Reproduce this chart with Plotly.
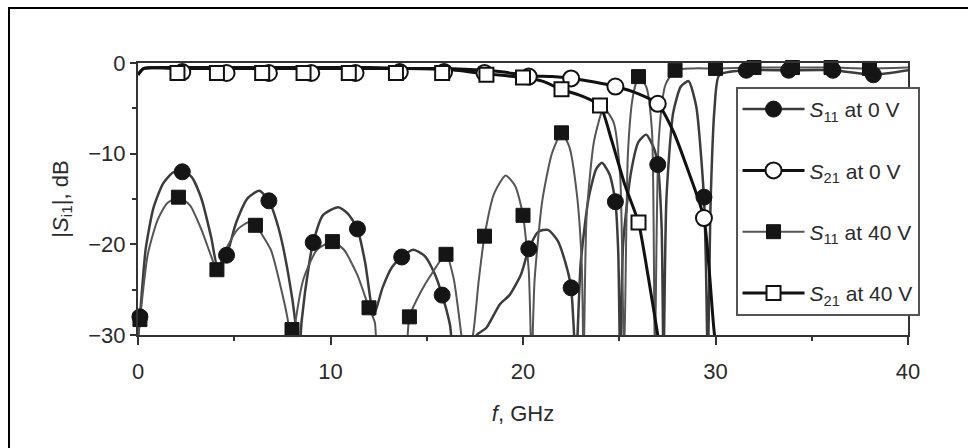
import plotly.graph_objects as go

# ---------------- data ----------------
# |S11| at 0 V, continuous trace (GHz, dB)
s11_0v_f = [0.0, 0.1, 0.4, 0.8, 1.3, 1.8, 2.3, 2.8, 3.3, 3.8, 4.15, 4.6, 5.1, 5.7, 6.3, 6.8,
            7.3, 7.8, 8.2, 8.35, 8.5, 8.9, 9.1, 9.6, 10.4, 10.9, 11.4, 11.8, 12.25, 12.7, 13.2,
            13.7, 14.3, 14.9, 15.4, 15.8, 16.2, 16.5, 17.3, 17.6, 18.1, 18.8, 19.3, 19.9, 20.3,
            20.8, 21.3, 21.8, 22.2, 22.5, 22.75, 23.0, 23.4, 23.8, 24.1, 24.5, 24.8, 24.95,
            25.05, 25.2, 25.6, 26.0, 26.4, 26.8, 27.0, 27.2, 27.3, 27.45, 27.8, 28.2, 28.6,
            29.0, 29.4, 29.5, 29.6, 29.75, 29.95, 30.2, 31.6, 33.8, 36.1, 38.2, 40.0]
s11_0v_db = [-30.5, -28.0, -20.5, -16.0, -13.3, -12.1, -11.8, -12.6, -15.0, -19.2, -22.6, -21.2,
             -17.6, -14.9, -14.1, -15.2, -18.2, -23.2, -29.0, -33.0, -28.5, -22.0, -19.8, -16.8,
             -15.9, -16.6, -18.3, -22.0, -27.8, -24.8, -22.5, -21.4, -20.6, -21.3, -23.2, -25.6,
             -28.8, -33.0, -33.0, -30.0, -29.2, -26.6, -25.6, -23.3, -20.5, -18.6, -18.4, -19.6,
             -22.0, -24.8, -33.0, -22.0, -15.0, -11.7, -11.0, -12.3, -15.3, -21.0, -33.0, -20.0,
             -12.2, -8.7, -7.9, -9.4, -11.2, -18.0, -33.0, -15.0, -5.5, -2.6, -2.0, -4.8, -14.8,
             -22.0, -33.0, -15.0, -5.0, -1.3, -0.8, -0.8, -0.8, -1.3, -0.8]
s11_0v_mark_f = [0.1, 2.3, 4.6, 6.8, 9.1, 11.4, 13.7, 15.8, 20.3, 22.5, 24.8, 27.0, 29.4,
                 31.6, 33.8, 36.1, 38.2]
s11_0v_mark_db = [-28.0, -12.0, -21.2, -15.2, -19.8, -18.3, -21.4, -25.6, -20.5, -24.8, -15.3,
                  -11.2, -14.8, -0.8, -0.8, -0.8, -1.3]

# |S11| at 40 V
s11_40v_f = [0.0, 0.1, 0.5, 1.0, 1.5, 2.1, 2.7, 3.3, 3.8, 4.1, 4.6, 5.2, 5.8, 6.1, 6.9, 7.4, 7.8,
             7.95, 8.15, 8.6, 9.3, 10.1, 10.7, 11.4, 12.0, 12.3, 12.55, 13.8, 14.1, 14.7, 15.3,
             16.0, 16.4, 16.8, 17.0, 17.4, 17.7, 18.0, 18.5, 19.1, 19.6, 20.0, 20.3, 20.45,
             20.6, 21.0, 21.5, 22.0, 22.4, 22.8, 23.05, 23.15, 23.3, 23.7, 24.2, 24.7, 25.05,
             25.25, 25.45, 25.7, 26.0, 26.4, 26.7, 26.85, 27.05, 27.4, 27.9, 28.8, 30.0, 32.0,
             34.0, 36.0, 38.0, 40.0]
s11_40v_db = [-30.5, -28.3, -21.2, -17.4, -15.5, -14.8, -15.7, -18.4, -21.3, -22.8, -20.4, -18.3,
              -17.5, -17.9, -20.6, -24.6, -28.6, -33.0, -29.0, -23.8, -20.6, -19.7, -20.6, -23.4,
              -27.0, -28.6, -33.0, -33.0, -28.0, -25.2, -23.1, -21.1, -23.8, -30.0, -33.0, -30.0,
              -24.0, -19.1, -14.4, -12.4, -13.6, -16.8, -23.0, -33.0, -24.0, -15.2, -10.0, -7.7,
              -9.2, -14.5, -22.0, -33.0, -17.0, -8.5, -5.0, -6.5, -12.5, -33.0, -10.0, -3.8,
              -1.5, -2.6, -7.5, -33.0, -8.5, -2.4, -0.8, -0.6, -0.6, -0.5, -0.5, -0.5, -0.6,
              -0.5]
s11_40v_mark_f = [0.1, 2.1, 4.1, 6.1, 8.0, 10.1, 12.0, 14.1, 16.0, 18.0, 20.0, 22.0, 26.0, 27.9,
                  30.0, 32.0, 34.0, 36.0, 38.0]
s11_40v_mark_db = [-28.3, -14.8, -22.8, -17.9, -29.4, -19.7, -27.0, -28.0, -21.1, -19.1, -16.8,
                   -7.7, -1.5, -0.8, -0.6, -0.5, -0.5, -0.5, -0.6]

# |S21| at 0 V
s21_0v_f = [0.0, 0.3, 2.0, 4.0, 6.0, 8.0, 10.0, 12.0, 14.0, 16.0, 18.0, 19.0, 20.3, 21.5, 22.5,
            23.7, 24.8, 26.0, 27.0, 27.8, 28.6, 29.4, 29.95, 30.3]
s21_0v_db = [-1.3, -0.6, -0.5, -0.5, -0.5, -0.5, -0.5, -0.5, -0.6, -0.6, -0.8, -1.0, -1.4, -1.5,
             -1.7, -2.1, -2.6, -3.4, -4.5, -7.5, -12.0, -17.1, -30.0, -34.0]
s21_0v_mark_f = [2.3, 4.6, 6.8, 9.0, 11.3, 13.6, 15.9, 18.0, 20.3, 22.5, 24.8, 27.0, 29.4]
s21_0v_mark_db = [-1.0, -1.1, -1.1, -1.1, -1.1, -1.0, -1.0, -1.1, -1.5, -1.7, -2.6, -4.5, -17.1]

# |S21| at 40 V
s21_40v_f = [0.0, 0.3, 2.0, 4.0, 6.0, 8.0, 10.0, 12.0, 14.0, 16.0, 18.1, 20.0, 21.0, 22.0, 23.0,
             24.0, 24.6, 25.3, 26.0, 26.5, 27.0, 27.3]
s21_40v_db = [-1.3, -0.6, -0.6, -0.6, -0.6, -0.6, -0.6, -0.6, -0.6, -0.7, -1.2, -1.6, -2.0,
              -2.9, -3.6, -4.7, -8.5, -13.5, -17.6, -23.5, -30.0, -34.0]
s21_40v_mark_f = [2.05, 4.1, 6.45, 8.6, 10.95, 13.4, 15.8, 18.1, 20.0, 22.0, 24.0, 26.0]
s21_40v_mark_db = [-1.1, -1.1, -1.1, -1.1, -1.1, -1.1, -1.1, -1.3, -1.6, -2.9, -4.7, -17.6]

x_ticks = [0, 10, 20, 30, 40]
y_ticks = [0, -10, -20, -30]
y_tick_text = ["0", "\u221210", "\u221220", "\u221230"]
legend_names = ["<i>S</i><sub>11</sub> at 0 V", "<i>S</i><sub>21</sub> at 0 V",
                "<i>S</i><sub>11</sub> at 40 V", "<i>S</i><sub>21</sub> at 40 V"]

# ---------------- styles ----------------
FONT = "Liberation Sans Narrow, Arial Narrow, Liberation Sans, Arial, sans-serif"
TXT = "#2a2a2a"
series = [
    dict(f=s11_0v_f, db=s11_0v_db, mf=s11_0v_mark_f, mdb=s11_0v_mark_db,
         line=dict(color="#3c3c3c", width=2.5),
         marker=dict(symbol="circle", size=16, color="#151515", line=dict(color="#151515", width=1))),
    dict(f=s21_0v_f, db=s21_0v_db, mf=s21_0v_mark_f, mdb=s21_0v_mark_db,
         line=dict(color="#111111", width=3),
         marker=dict(symbol="circle", size=16, color="white", line=dict(color="#111111", width=2))),
    dict(f=s11_40v_f, db=s11_40v_db, mf=s11_40v_mark_f, mdb=s11_40v_mark_db,
         line=dict(color="#555555", width=2),
         marker=dict(symbol="square", size=14, color="#151515", line=dict(color="#151515", width=1))),
    dict(f=s21_40v_f, db=s21_40v_db, mf=s21_40v_mark_f, mdb=s21_40v_mark_db,
         line=dict(color="#111111", width=3),
         marker=dict(symbol="square", size=14, color="white", line=dict(color="#111111", width=2))),
]

fig = go.Figure()

# curves first, S11 under S21
for s in [series[0], series[2], series[1], series[3]]:
    fig.add_trace(go.Scatter(x=s["f"], y=s["db"], mode="lines", line=s["line"],
                             line_shape="spline", line_smoothing=0.6,
                             showlegend=False, hoverinfo="skip"))
for s in [series[0], series[2], series[1], series[3]]:
    fig.add_trace(go.Scatter(x=s["mf"], y=s["mdb"], mode="markers", marker=s["marker"],
                             cliponaxis=False, showlegend=False))

# legend entries
for i, (s, name) in enumerate(zip(series, legend_names)):
    fig.add_trace(go.Scatter(x=[None], y=[None], mode="lines+markers", name=name,
                             line=s["line"], marker=s["marker"], legendgroup=f"g{i}"))

axis_common = dict(showline=True, linecolor="#333333", linewidth=2, mirror=True,
                   showgrid=False, zeroline=False, ticks="outside", tickcolor="#333333",
                   tickwidth=2, tickfont=dict(family=FONT, size=22, color=TXT))

fig.update_xaxes(range=[0, 40], tickvals=x_ticks, ticklen=8, ticklabelstandoff=8,
                 minor=dict(dtick=5, ticks="outside", ticklen=4, tickcolor="#333333", tickwidth=2),
                 title=dict(text="<i>f</i>, GHz", font=dict(family=FONT, size=22, color=TXT),
                            standoff=22),
                 **axis_common)
fig.update_yaxes(range=[-30, 0], tickvals=y_ticks, ticktext=y_tick_text,
                 ticklen=6,
                 minor=dict(dtick=5, ticks="outside", ticklen=4, tickcolor="#333333", tickwidth=2),
                 title=dict(text="|<i>S</i><sub>i1</sub>|, dB", font=dict(family=FONT, size=22, color=TXT),
                            standoff=14),
                 **axis_common)

fig.update_layout(
    width=968, height=448,
    margin=dict(l=138, r=60, t=63, b=113),
    paper_bgcolor="white", plot_bgcolor="white",
    font=dict(family=FONT, color=TXT),
    legend=dict(x=0.776, y=0.912, xanchor="left", yanchor="top",
                bgcolor="white", bordercolor="#555555", borderwidth=2,
                font=dict(family=FONT, size=21, color=TXT),
                tracegroupgap=31, itemwidth=62),
    shapes=[dict(type="rect", xref="paper", yref="paper",
                 x0=(9 - 138) / 770, x1=(975 - 138) / 770,
                 y0=(335 - 455) / 272, y1=(335 - 8) / 272,
                 line=dict(color="black", width=2), layer="below")],
)

fig.write_html("out.html")
